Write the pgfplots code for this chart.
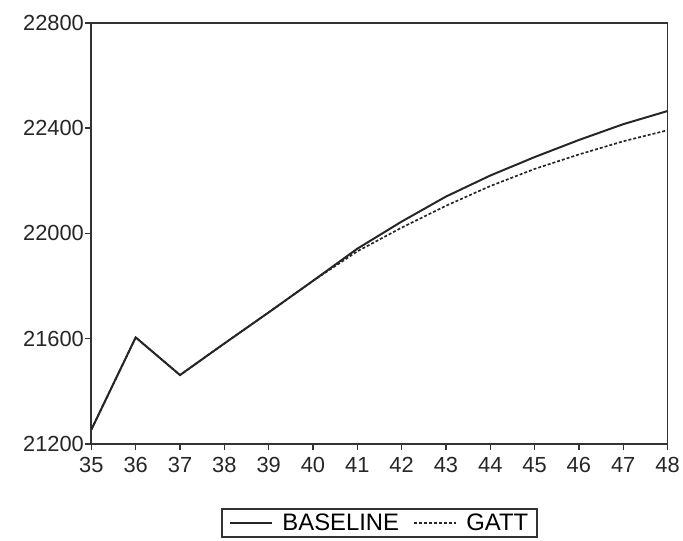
\documentclass[border=0pt]{standalone}
\usepackage{pgfplots}
\pgfplotsset{compat=1.18}
\usepackage{fontspec}
\setmainfont{Liberation Sans}
\begin{document}
\begin{tikzpicture}
\begin{axis}[
  at={(0pt,0pt)}, anchor=south west,
  scale only axis, width=580pt, height=424pt,
  xmin=35, xmax=48, ymin=21200, ymax=22800,
  xtick={35,...,48}, ytick={21200,21600,22000,22400,22800},
  scaled ticks=false,
  /pgf/number format/assume math mode=true,
  /pgf/number format/set thousands separator={},
  yticklabel style={/pgf/number format/fixed},
  tick label style={font=\fontsize{22}{25}\selectfont, text=black!85},
  xticklabel style={yshift=-4pt},
  yticklabel style={xshift=2pt},
  tick align=outside, tickwidth=6pt,
  xtick pos=bottom, ytick pos=left,
  axis line style={line width=1.8pt, black!80},
  major tick style={line width=1.4pt, black!80},
  legend columns=2,
  legend style={at={(axis description cs:0.5,-0.152)}, anchor=north,
    draw=black!80, line width=1.5pt, font=\fontsize{24}{26}\selectfont,
    inner xsep=7pt, inner ysep=3pt,
    nodes={inner xsep=2pt, inner ysep=2pt},
    /tikz/every odd column/.append style={column sep=8pt},
    /tikz/every even column/.append style={column sep=12pt}},
  legend image code/.code={\draw[#1] (0pt,0pt) -- (42pt,0pt);},
]
\addplot[black!85, line width=2pt] coordinates {
 (35,21255) (36,21605) (37,21462) (38,21582) (39,21700) (40,21820)
 (41,21942) (42,22045) (43,22140) (44,22220) (45,22290) (46,22355)
 (47,22415) (48,22465)};
\addlegendentry{BASELINE}
\addplot[black!85, line width=1.7pt, dash pattern=on 3pt off 2pt] coordinates {
 (35,21255) (36,21605) (37,21462) (38,21582) (39,21700) (40,21820)
 (41,21932) (42,22022) (43,22105) (44,22180) (45,22245) (46,22300)
 (47,22350) (48,22392)};
\addlegendentry{GATT}
\end{axis}
\path (-92pt,-97pt) rectangle (591pt,447pt);
\end{tikzpicture}
\end{document}
